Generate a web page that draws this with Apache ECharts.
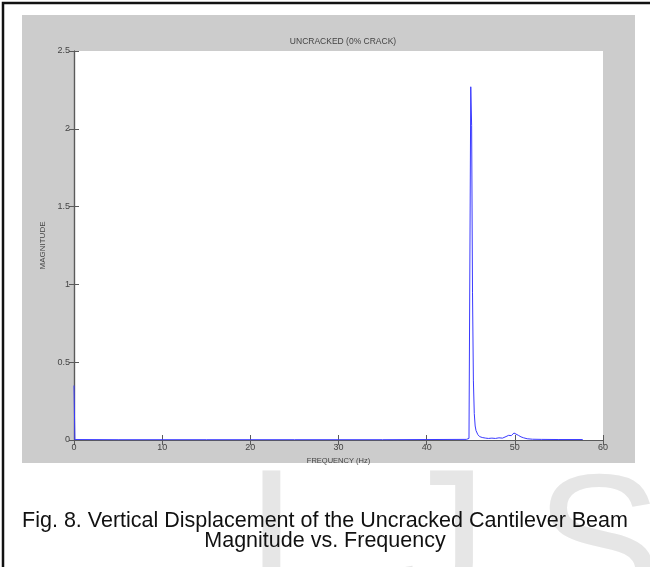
<!DOCTYPE html>
<html>
<head>
<meta charset="utf-8">
<script src="https://cdn.jsdelivr.net/npm/echarts@6/dist/echarts.min.js"></script>
<style>
  html, body { margin: 0; padding: 0; background: #ffffff; }
  #chart { width: 650px; height: 567px; }
</style>
</head>
<body>
<div id="chart"></div>
<script>
// Spectrum of the vertical displacement: frequency (Hz) and magnitude
const freqHz = [0, 0.1, 5, 10, 15, 20, 25, 30, 35, 40, 44.5, 44.8, 45.0, 45.1, 45.2, 45.3, 45.4, 45.5, 45.6, 45.8, 46.0, 46.3, 46.7, 47.0, 47.4, 47.8, 48.2, 48.6, 49.0, 49.3, 49.6, 49.9, 50.1, 50.4, 50.7, 51.0, 51.4, 52.0, 53.0, 55.0, 57.7];
const magnitude = [0.35, 0.003, 0.002, 0.002, 0.002, 0.002, 0.002, 0.002, 0.002, 0.003, 0.004, 0.01, 2.27, 2.02, 0.95, 0.38, 0.17, 0.09, 0.06, 0.035, 0.022, 0.016, 0.012, 0.01, 0.012, 0.01, 0.014, 0.012, 0.022, 0.03, 0.028, 0.045, 0.038, 0.03, 0.02, 0.014, 0.008, 0.005, 0.004, 0.003, 0.003];

const xTicks = [0, 10, 20, 30, 40, 50, 60];
const yTicks = [0, 0.5, 1, 1.5, 2, 2.5];

const chartTitle = 'UNCRACKED (0% CRACK)';
const xName = 'FREQUENCY (Hz)';
const yName = 'MAGNITUDE';
const captionLines = ['Fig. 8. Vertical Displacement of the Uncracked Cantilever Beam', 'Magnitude vs. Frequency'];
const watermark = ['I', 'J', 'S'];

const chart = echarts.init(document.getElementById('chart'), null, { renderer: 'canvas' });

const points = freqHz.map((f, i) => [f, magnitude[i]]);

const axisColor = '#5a5a5a';
const labelColor = '#444444';
const smallFont = 'Liberation Sans, Arial, sans-serif';
const markFont = '190px Liberation Sans, Arial, sans-serif';
const markColor = '#e6e6e6';
const captionFont = '21.5px Liberation Sans, Arial, sans-serif';

const tickAxisCommon = {
  type: 'value',
  min: 0,
  axisLine: { show: true, lineStyle: { color: axisColor, width: 1.2 } },
  axisTick: { show: true, inside: true, length: 5, lineStyle: { color: axisColor } },
  splitLine: { show: false }
};

chart.setOption({
  animation: false,
  backgroundColor: '#ffffff',
  graphic: [
    {
      type: 'rect', z: -10, silent: true,
      shape: { x: 3, y: 3, width: 700, height: 700 },
      style: { fill: '#ffffff', stroke: '#111111', lineWidth: 2.5 }
    },
    {
      type: 'rect', z: -9, silent: true,
      shape: { x: 22, y: 15, width: 613, height: 448 },
      style: { fill: '#cccccc' }
    },
    // faint letters behind the caption
    { type: 'text', z: -8, silent: true, x: 245, y: 454,
      style: { text: watermark[0], font: markFont, fill: markColor } },
    { type: 'text', z: -8, silent: true, x: 392, y: 454,
      style: { text: watermark[1], font: markFont, fill: markColor } },
    { type: 'text', z: -8, silent: true, x: 535, y: 459,
      style: { text: watermark[2], font: markFont, fill: markColor } },
    // caption, one line per element so each is centred
    { type: 'text', z: 10, silent: true, x: 325, y: 510,
      style: { text: captionLines[0], font: captionFont, fill: '#111111', textAlign: 'center', textVerticalAlign: 'top' } },
    { type: 'text', z: 10, silent: true, x: 325, y: 530,
      style: { text: captionLines[1], font: captionFont, fill: '#111111', textAlign: 'center', textVerticalAlign: 'top' } }
  ],
  title: {
    text: chartTitle,
    left: 338, top: 32, textAlign: 'center',
    textStyle: { fontSize: 8.5, fontWeight: 'normal', color: labelColor, fontFamily: smallFont }
  },
  grid: {
    left: 74, top: 51, right: 47, bottom: 127,
    show: true, backgroundColor: '#ffffff', borderWidth: 0
  },
  xAxis: [
    Object.assign({}, tickAxisCommon, {
      position: 'bottom', max: 60, interval: 10,
      name: xName, nameLocation: 'middle', nameGap: 13,
      nameTextStyle: { fontSize: 7.5, color: labelColor, fontFamily: smallFont },
      axisLabel: { fontSize: 9, color: labelColor, margin: 3, fontFamily: smallFont,
        formatter: v => xTicks.includes(v) ? String(v) : '' }
    }),
    Object.assign({}, tickAxisCommon, {
      position: 'top', max: 60, interval: 10,
      axisLabel: { show: false }
    })
  ],
  yAxis: [
    Object.assign({}, tickAxisCommon, {
      position: 'left', max: 2.5, interval: 0.5,
      name: yName, nameLocation: 'middle', nameGap: 24, nameRotate: 90,
      nameTextStyle: { fontSize: 8, color: labelColor, fontFamily: smallFont },
      axisLabel: { fontSize: 9, color: labelColor, margin: 4, fontFamily: smallFont,
        formatter: v => yTicks.includes(v) ? String(v) : '' }
    }),
    Object.assign({}, tickAxisCommon, {
      position: 'right', max: 2.5, interval: 0.5,
      axisLabel: { show: false }
    })
  ],
  series: [{
    type: 'line',
    data: points,
    xAxisIndex: 0, yAxisIndex: 0,
    showSymbol: false,
    lineStyle: { color: '#3a3aff', width: 1 },
    z: 5
  }]
});
</script>
</body>
</html>
